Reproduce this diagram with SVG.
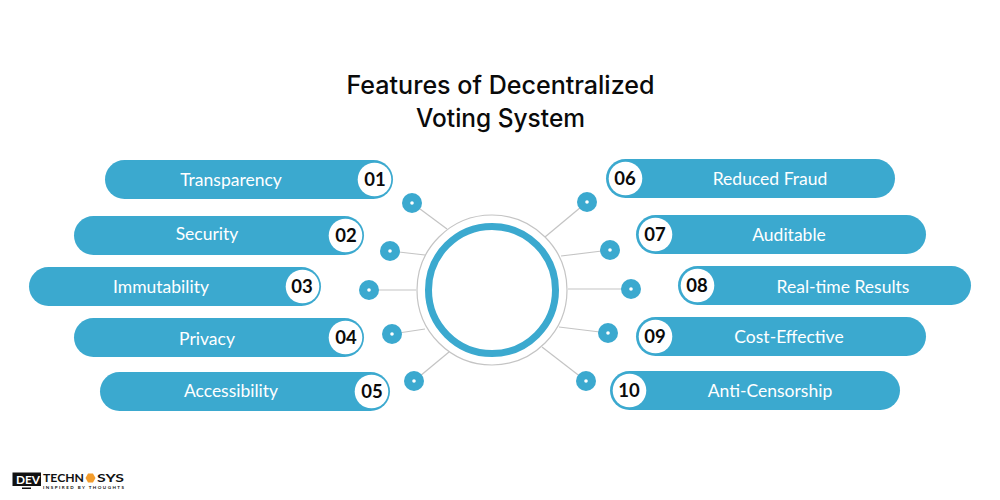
<svg xmlns="http://www.w3.org/2000/svg" width="1000" height="500" viewBox="0 0 1000 500">
<style>
text{font-family:"Lato","Liberation Sans",sans-serif}
.t{font-family:"Inter","Lato",sans-serif;font-size:25px;font-weight:500;fill:#0a0a0a;text-anchor:middle}
.p{fill:#3ba9cf}
.c{fill:#fff}
.l{font-size:17.500px;font-weight:400;fill:#fff;text-anchor:middle;dominant-baseline:central}
.n{font-size:18.500px;font-weight:700;fill:#0a0a0a;text-anchor:middle;dominant-baseline:central}
.k{stroke:#c4c4c4;stroke-width:1.2;fill:none}
.d{fill:#3ba9cf}
.w{fill:#fff}
</style>
<rect width="1000" height="500" fill="#fff"/>
<g id="title">
<text class="t" x="500.500" y="94" textLength="308" lengthAdjust="spacingAndGlyphs">Features of Decentralized</text>
<text class="t" x="500.500" y="127" textLength="169" lengthAdjust="spacingAndGlyphs">Voting System</text>
</g>
<g id="connectors">
<line class="k" x1="412" y1="203" x2="447" y2="229"/>
<line class="k" x1="390" y1="251" x2="425" y2="255"/>
<line class="k" x1="369" y1="290" x2="416" y2="290"/>
<line class="k" x1="392" y1="334" x2="425" y2="329"/>
<line class="k" x1="414" y1="381" x2="449" y2="352"/>
<line class="k" x1="587" y1="202" x2="545" y2="237"/>
<line class="k" x1="610" y1="250" x2="561" y2="256"/>
<line class="k" x1="631" y1="289" x2="568" y2="289"/>
<line class="k" x1="608" y1="333" x2="559" y2="327"/>
<line class="k" x1="586" y1="381" x2="542" y2="347"/>
</g>
<g id="hub">
<circle cx="492" cy="290" r="75" fill="#fff" stroke="#c4c4c4" stroke-width="1.2"/>
<circle cx="492" cy="290" r="63.500" fill="#fff" stroke="#3ba9cf" stroke-width="7"/>
</g>
<g id="dots">
<g id="dot1"><circle class="d" cx="412" cy="203" r="10"/><circle class="w" cx="412" cy="203" r="1.800"/></g>
<g id="dot2"><circle class="d" cx="390" cy="251" r="10"/><circle class="w" cx="390" cy="251" r="1.800"/></g>
<g id="dot3"><circle class="d" cx="369" cy="290" r="10"/><circle class="w" cx="369" cy="290" r="1.800"/></g>
<g id="dot4"><circle class="d" cx="392" cy="334" r="10"/><circle class="w" cx="392" cy="334" r="1.800"/></g>
<g id="dot5"><circle class="d" cx="414" cy="381" r="10"/><circle class="w" cx="414" cy="381" r="1.800"/></g>
<g id="dot6"><circle class="d" cx="587" cy="202" r="10"/><circle class="w" cx="587" cy="202" r="1.800"/></g>
<g id="dot7"><circle class="d" cx="610" cy="250" r="10"/><circle class="w" cx="610" cy="250" r="1.800"/></g>
<g id="dot8"><circle class="d" cx="631" cy="289" r="10"/><circle class="w" cx="631" cy="289" r="1.800"/></g>
<g id="dot9"><circle class="d" cx="608" cy="333" r="10"/><circle class="w" cx="608" cy="333" r="1.800"/></g>
<g id="dot10"><circle class="d" cx="586" cy="381" r="10"/><circle class="w" cx="586" cy="381" r="1.800"/></g>
</g>
<g id="node1"><rect class="p" x="105" y="160" width="288" height="39" rx="19.500"/><circle class="c" cx="374.500" cy="179.500" r="16.800"/><text class="l" x="231" y="179">Transparency</text><text class="n" x="375" y="179">01</text></g>
<g id="node2"><rect class="p" x="74" y="216" width="290" height="39" rx="19.500"/><circle class="c" cx="345.500" cy="235.500" r="16.800"/><text class="l" x="207" y="233">Security</text><text class="n" x="346" y="235">02</text></g>
<g id="node3"><rect class="p" x="29" y="267" width="292" height="39" rx="19.500"/><circle class="c" cx="302.500" cy="286.500" r="16.800"/><text class="l" x="161" y="286">Immutability</text><text class="n" x="302" y="286">03</text></g>
<g id="node4"><rect class="p" x="74" y="318" width="290" height="39" rx="19.500"/><circle class="c" cx="345.500" cy="337.500" r="16.800"/><text class="l" x="207" y="338">Privacy</text><text class="n" x="346" y="337">04</text></g>
<g id="node5"><rect class="p" x="100" y="372" width="290" height="39" rx="19.500"/><circle class="c" cx="371.500" cy="391.500" r="16.800"/><text class="l" x="231" y="390">Accessibility</text><text class="n" x="372" y="391">05</text></g>
<g id="node6"><rect class="p" x="606" y="159" width="289" height="39" rx="19.500"/><circle class="c" cx="625.500" cy="178.500" r="16.800"/><text class="l" x="770" y="178">Reduced Fraud</text><text class="n" x="625" y="178">06</text></g>
<g id="node7"><rect class="p" x="636" y="215" width="290" height="39" rx="19.500"/><circle class="c" cx="655.500" cy="234.500" r="16.800"/><text class="l" x="789" y="234">Auditable</text><text class="n" x="655" y="234">07</text></g>
<g id="node8"><rect class="p" x="678" y="266" width="293" height="39" rx="19.500"/><circle class="c" cx="697.500" cy="285.500" r="16.800"/><text class="l" x="843" y="286">Real-time Results</text><text class="n" x="697" y="285">08</text></g>
<g id="node9"><rect class="p" x="636" y="317" width="290" height="39" rx="19.500"/><circle class="c" cx="655.500" cy="336.500" r="16.800"/><text class="l" x="789" y="336">Cost-Effective</text><text class="n" x="655" y="336">09</text></g>
<g id="node10"><rect class="p" x="610" y="371" width="290" height="39" rx="19.500"/><circle class="c" cx="629.500" cy="390.500" r="16.800"/><text class="l" x="770" y="390">Anti-Censorship</text><text class="n" x="629" y="390">10</text></g>
<g id="logo">
<rect x="12.500" y="472.500" width="28.500" height="13.500" fill="#111"/>
<rect x="22" y="487.500" width="9" height="1.500" fill="#111"/>
<text x="16" y="483.500" font-size="11.500" font-weight="700" fill="#fff" textLength="24" lengthAdjust="spacingAndGlyphs">DEV</text>
<text x="43" y="481.800" font-size="12" font-weight="700" fill="#111" textLength="41" lengthAdjust="spacingAndGlyphs">TECHN</text>
<polygon points="85.500,478 88,473.500 93,473.500 95.500,478 93,482.500 88,482.500" fill="#f39c2c"/>
<text x="97" y="481.800" font-size="12" font-weight="700" fill="#111" textLength="27" lengthAdjust="spacingAndGlyphs">SYS</text>
<text x="43" y="488.500" font-size="4.500" font-weight="700" fill="#111" textLength="81" lengthAdjust="spacing">INSPIRED BY THOUGHTS</text>
</g>
</svg>
